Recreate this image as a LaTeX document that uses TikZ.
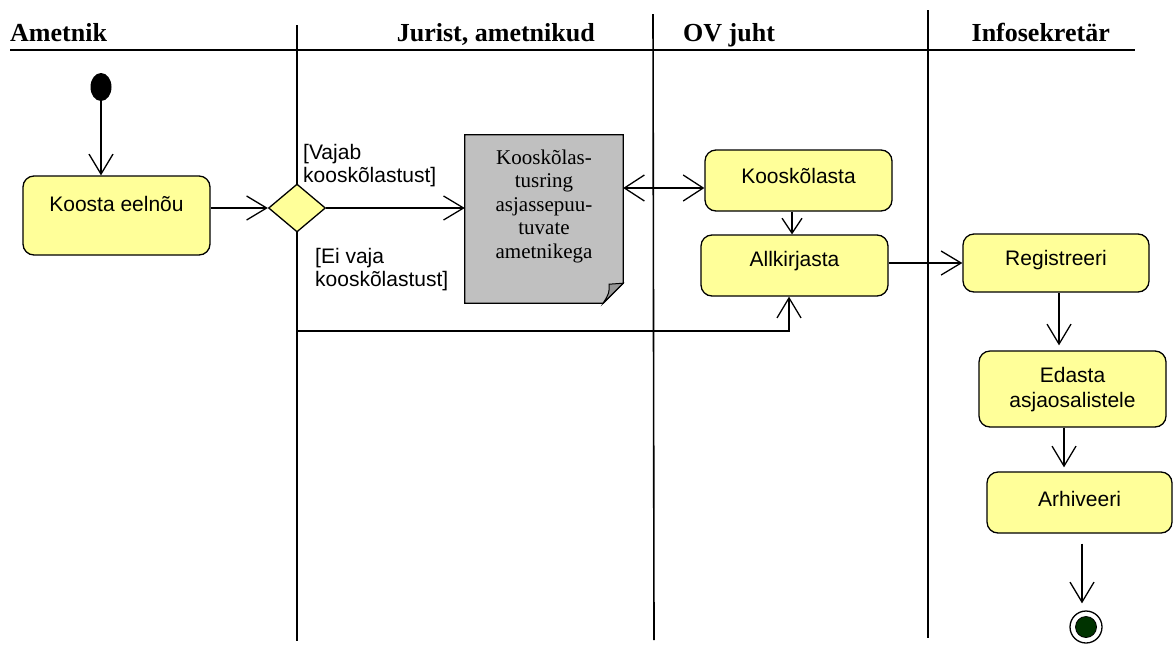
\documentclass[tikz,border=0pt]{standalone}
\usepackage{fontspec}
\setmainfont{Liberation Serif}
\setsansfont{Liberation Sans}
\usetikzlibrary{arrows.meta,shapes.geometric,calc}

\definecolor{actfill}{RGB}{255,255,153}
\definecolor{docgrey}{RGB}{192,192,192}
\definecolor{foldgrey}{RGB}{150,150,150}
\definecolor{finalgreen}{RGB}{0,51,0}

\begin{document}
\begin{tikzpicture}[x=1pt,y=-1pt,
  lane/.style={line width=1.6pt},
  conn/.style={line width=1.3pt},
  arr/.style={conn,-{Straight Barb[length=20pt,width=24pt,line width=1.3pt]}},
  arrsmall/.style={conn,-{Straight Barb[length=15pt,width=20pt,line width=1.3pt]}},
  arrboth/.style={conn,{Straight Barb[length=20pt,width=26pt,line width=1.3pt]}-{Straight Barb[length=20pt,width=26pt,line width=1.3pt]}},
  hdr/.style={font=\bfseries\fontsize{26}{28}\selectfont, inner sep=0},
  actbox/.style={draw, line width=1.3pt, fill=actfill, rounded corners=11pt, inner sep=0},
  acttxt/.style={font=\sffamily\fontsize{21}{25}\selectfont, align=center, inner sep=0},
  guard/.style={font=\sffamily\fontsize{21}{23}\selectfont, align=left, inner sep=0},
  doctxt/.style={font=\fontsize{21}{23.5}\selectfont, align=center, inner sep=0},
]
\useasboundingbox (0,0) rectangle (1174,646);

% swimlane headers and separators
\draw[lane] (10,50) -- (1135,50);
\draw[lane] (297,25) -- (297,641);
\draw[lane] (653,14) -- (654,640);
\draw[lane] (928,10) -- (928,638);
\node[hdr, anchor=base west] (hAmet) at (10,41) {Ametnik};
\node[hdr, anchor=base east] (hJur) at (595,41) {Jurist, ametnikud};
\node[hdr, anchor=base west] (hOV) at (683,41) {OV juht};
\node[hdr, anchor=base east] (hInfo) at (1110,41) {Infosekretär};

% start node
\node[ellipse, fill=black, minimum width=21pt, minimum height=28pt, inner sep=0] (init) at (101,87) {};

% activities
\node[actbox, minimum width=187pt, minimum height=79pt] (koosta) at (116.5,215.5) {};
\node[acttxt] (koostaT) at (116.5,204) {Koosta eelnõu};

\node[diamond, draw, line width=1.3pt, fill=actfill, aspect=1.19, minimum width=57pt, minimum height=48pt, inner sep=0] (dec) at (297,208) {};

\node[guard, anchor=north west] (gYes) at (303,144) {[Vajab\\kooskõlastust]};
\node[guard, anchor=north west] (gNo) at (315,248) {[Ei vaja\\kooskõlastust]};

% document with folded corner
\node[minimum width=158pt, minimum height=168pt, inner sep=0] (doc) at (544,219) {};
\draw[line width=1.3pt, fill=docgrey]
  (doc.north west) -- (doc.north east) -- ($(doc.south east)+(0,-20)$)
  -- ($(doc.south east)+(-20,0)$) -- (doc.south west) -- cycle;
\draw[line width=1pt, fill=foldgrey]
  ($(doc.south east)+(0,-20)$) -- ($(doc.south east)+(-14,-19)$)
  .. controls ($(doc.south east)+(-14,-10)$) .. ($(doc.south east)+(-20,0)$) -- cycle;
\node[doctxt] (docT) at (544,206) {Kooskõlas-\\tusring\\asjassepuu-\\tuvate\\ametnikega};

\node[actbox, minimum width=187pt, minimum height=61pt] (koosk) at (798.5,180.5) {};
\node[acttxt] (kooskT) at (798.5,176) {Kooskõlasta};

\node[actbox, minimum width=187pt, minimum height=61pt] (allk) at (794.5,265.5) {};
\node[acttxt] (allkT) at (794.5,261) {Allkirjasta};

\node[actbox, minimum width=186pt, minimum height=58pt] (reg) at (1056,263) {};
\node[acttxt] (regT) at (1056,260) {Registreeri};

\node[actbox, minimum width=187pt, minimum height=76pt] (edasta) at (1072.5,389) {};
\node[acttxt] (edastaT) at (1072.5,390) {Edasta\\asjaosalistele};

\node[actbox, minimum width=185pt, minimum height=61pt] (arh) at (1079.5,502.5) {};
\node[acttxt] (arhT) at (1079.5,499) {Arhiveeri};

% end node
\node[circle, draw, line width=1.3pt, fill=white, minimum size=32pt, inner sep=0] (final) at (1086,627) {};
\node[circle, draw, line width=0.8pt, fill=finalgreen, minimum size=21pt, inner sep=0] (finalIn) at (final) {};

% flows
\draw[arr] (init.south) -- (init.south |- koosta.north);
\draw[arr] (koosta.east |- dec.west) -- (dec.west);
\draw[arr] (dec.east) -- (dec.east -| doc.west);
\coordinate (dr) at ($(doc.east)+(0,-31)$);
\draw[arrboth] (dr) -- (dr -| koosk.west);
\coordinate (ka) at ($(koosk.south)+(-6.5,0)$);
\draw[arrsmall] (ka) -- (ka |- allk.north);
\coordinate (low) at (789,331);
\draw[arr] (dec.south) |- (low) -- (low |- allk.south);
\draw[arr] (allk.east |- reg.west) -- (reg.west);
\coordinate (re) at ($(reg.south)+(3,0)$);
\draw[arr] (re) -- ($(re |- edasta.north)+(0,-5)$);
\coordinate (ea) at ($(edasta.south)+(-8.5,0)$);
\draw[arr] (ea) -- ($(ea |- arh.north)+(0,-4)$);
\coordinate (af) at ($(arh.south)+(2.5,10)$);
\draw[arr] (af) -- ($(af |- final.north)+(0,-7)$);
\end{tikzpicture}
\end{document}
